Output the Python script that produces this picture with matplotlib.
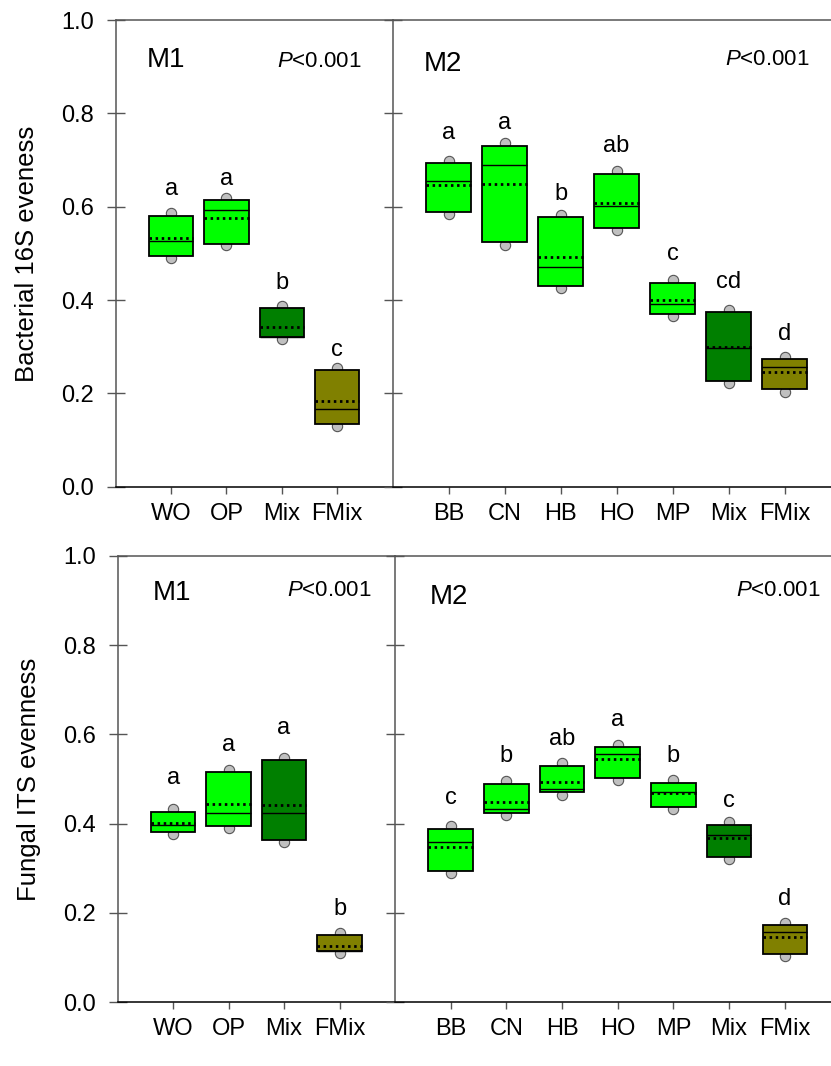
import matplotlib
matplotlib.use('Agg')
import matplotlib.pyplot as plt
import numpy as np

plt.rcParams['font.family'] = ['Liberation Sans', 'DejaVu Sans']
plt.rcParams['mathtext.fontset'] = 'custom'
plt.rcParams['mathtext.it'] = 'Liberation Sans:italic'
plt.rcParams['mathtext.rm'] = 'Liberation Sans'

# data
m1_groups = ['WO', 'OP', 'Mix', 'FMix']
m2_groups = ['BB', 'CN', 'HB', 'HO', 'MP', 'Mix', 'FMix']

# bacterial 16S eveness, M1
bac_m1_p10 = [0.491, 0.518, 0.316, 0.130]
bac_m1_q25 = [0.494, 0.521, 0.320, 0.134]
bac_m1_med = [0.527, 0.593, 0.321, 0.166]
bac_m1_mean = [0.534, 0.576, 0.342, 0.184]
bac_m1_q75 = [0.581, 0.614, 0.382, 0.250]
bac_m1_p90 = [0.586, 0.619, 0.387, 0.254]
bac_m1_letters = ['a', 'a', 'b', 'c']
bac_m1_letter_y = [0.625, 0.646, 0.423, 0.280]

# bacterial 16S eveness, M2
bac_m2_p10 = [0.584, 0.519, 0.426, 0.551, 0.366, 0.223, 0.203]
bac_m2_q25 = [0.588, 0.524, 0.431, 0.555, 0.371, 0.227, 0.209]
bac_m2_med = [0.656, 0.689, 0.470, 0.602, 0.392, 0.297, 0.257]
bac_m2_mean = [0.646, 0.649, 0.493, 0.609, 0.400, 0.299, 0.246]
bac_m2_q75 = [0.693, 0.731, 0.577, 0.671, 0.437, 0.374, 0.273]
bac_m2_p90 = [0.698, 0.737, 0.582, 0.676, 0.442, 0.379, 0.279]
bac_m2_letters = ['a', 'a', 'b', 'ab', 'c', 'cd', 'd']
bac_m2_letter_y = [0.746, 0.766, 0.614, 0.718, 0.486, 0.425, 0.314]

# fungal ITS evenness, M1
fun_m1_p10 = [0.377, 0.390, 0.359, 0.110]
fun_m1_q25 = [0.381, 0.394, 0.363, 0.114]
fun_m1_med = [0.397, 0.423, 0.423, 0.115]
fun_m1_mean = [0.401, 0.444, 0.441, 0.126]
fun_m1_q75 = [0.427, 0.515, 0.542, 0.151]
fun_m1_p90 = [0.432, 0.521, 0.547, 0.156]
fun_m1_letters = ['a', 'a', 'a', 'b']
fun_m1_letter_y = [0.489, 0.562, 0.601, 0.196]

# fungal ITS evenness, M2
fun_m2_p10 = [0.289, 0.419, 0.465, 0.498, 0.433, 0.322, 0.104]
fun_m2_q25 = [0.294, 0.423, 0.470, 0.503, 0.438, 0.326, 0.108]
fun_m2_med = [0.358, 0.432, 0.477, 0.556, 0.471, 0.374, 0.157]
fun_m2_mean = [0.347, 0.449, 0.493, 0.544, 0.468, 0.367, 0.147]
fun_m2_q75 = [0.388, 0.490, 0.530, 0.571, 0.492, 0.398, 0.173]
fun_m2_p90 = [0.394, 0.495, 0.535, 0.576, 0.498, 0.403, 0.178]
fun_m2_letters = ['c', 'b', 'ab', 'a', 'b', 'c', 'd']
fun_m2_letter_y = [0.444, 0.539, 0.577, 0.620, 0.539, 0.438, 0.218]

# colours
LIME = '#00FF00'
DARK = '#007F00'
OLIVE = '#808000'
m1_colors = [LIME, LIME, DARK, OLIVE]
m2_colors = [LIME, LIME, LIME, LIME, LIME, DARK, OLIVE]

SPINE = '#555555'


def draw_panel(ax, groups, p10, q25, med, mean, q75, p90, letters, letter_y,
               colors, xmax, show_ylabels):
    x = np.arange(1, len(groups) + 1)
    w = 0.8
    q25 = np.array(q25)
    q75 = np.array(q75)
    ax.scatter(x, p90, s=55, color='#C0C0C0', edgecolor='#555555',
               linewidth=0.8, zorder=2)
    ax.scatter(x, p10, s=55, color='#C0C0C0', edgecolor='#555555',
               linewidth=0.8, zorder=2)
    ax.bar(x, q75 - q25, bottom=q25, width=w, color=colors,
           edgecolor='black', linewidth=1.3, zorder=3)
    ax.hlines(med, x - w / 2, x + w / 2, colors='black', linewidth=1.0, zorder=4)
    ax.hlines(mean, x - w / 2, x + w / 2, colors='black', linewidth=2.0,
              linestyles=(0, (0.9, 1.3)), zorder=4)
    for xi, lab, ly in zip(x, letters, letter_y):
        ax.text(xi, ly, lab, ha='center', va='baseline', fontsize=17)

    ax.set_xlim(0, xmax)
    ax.set_ylim(0, 1.0)
    ax.set_xticks(x)
    ax.set_xticklabels(groups)
    ax.set_yticks(np.arange(0, 1.01, 0.2))
    if show_ylabels:
        ax.set_yticklabels(['%.1f' % v for v in np.arange(0, 1.01, 0.2)])
    else:
        ax.set_yticklabels([])
    ax.tick_params(axis='y', direction='inout', length=13, width=1,
                   color=SPINE, pad=9, labelsize=17)
    ax.tick_params(axis='x', direction='out', length=5, width=1,
                   color=SPINE, pad=6.5, labelsize=17)
    ax.spines['right'].set_visible(False)
    for s in ['left', 'top']:
        ax.spines[s].set_color(SPINE)
        ax.spines[s].set_linewidth(1.1)
    ax.spines['bottom'].set_color('black')
    ax.spines['bottom'].set_linewidth(1.1)


def panel_texts(ax, name, name_x, name_y, p_x, p_y):
    ax.text(name_x, name_y, name, transform=ax.transAxes, fontsize=20,
            ha='left', va='baseline')
    ax.text(p_x, p_y, r'$\mathit{P}$<0.001', transform=ax.transAxes,
            fontsize=16, ha='right', va='baseline')


fig = plt.figure(figsize=(8.31, 10.66), dpi=100)

# top row
ax1 = fig.add_axes([0.1392, 0.5434, 0.3333, 0.4378])
ax2 = fig.add_axes([0.4725, 0.5434, 0.5275, 0.4378])
# bottom row
ax3 = fig.add_axes([0.1416, 0.0598, 0.3337, 0.4187])
ax4 = fig.add_axes([0.4753, 0.0598, 0.5247, 0.4187])

draw_panel(ax1, m1_groups, bac_m1_p10, bac_m1_q25, bac_m1_med, bac_m1_mean,
           bac_m1_q75, bac_m1_p90, bac_m1_letters, bac_m1_letter_y,
           m1_colors, 5, True)
draw_panel(ax2, m2_groups, bac_m2_p10, bac_m2_q25, bac_m2_med, bac_m2_mean,
           bac_m2_q75, bac_m2_p90, bac_m2_letters, bac_m2_letter_y,
           m2_colors, 7.83, False)
draw_panel(ax3, m1_groups, fun_m1_p10, fun_m1_q25, fun_m1_med, fun_m1_mean,
           fun_m1_q75, fun_m1_p90, fun_m1_letters, fun_m1_letter_y,
           m1_colors, 5, True)
draw_panel(ax4, m2_groups, fun_m2_p10, fun_m2_q25, fun_m2_med, fun_m2_mean,
           fun_m2_q75, fun_m2_p90, fun_m2_letters, fun_m2_letter_y,
           m2_colors, 7.83, False)

panel_texts(ax1, 'M1', 0.112, 0.900, 0.888, 0.900)
panel_texts(ax2, 'M2', 0.070, 0.891, 0.952, 0.904)
panel_texts(ax3, 'M1', 0.127, 0.901, 0.916, 0.910)
panel_texts(ax4, 'M2', 0.080, 0.892, 0.975, 0.910)

fig.text(27 / 831, 0.5434 + 0.4378 / 2, 'Bacterial 16S eveness', rotation=90,
         ha='center', va='center', fontsize=18.5)
fig.text(29 / 831, 0.0598 + 0.4187 / 2, 'Fungal ITS evenness', rotation=90,
         ha='center', va='center', fontsize=18.5)

fig.savefig('out.png', dpi=100)
